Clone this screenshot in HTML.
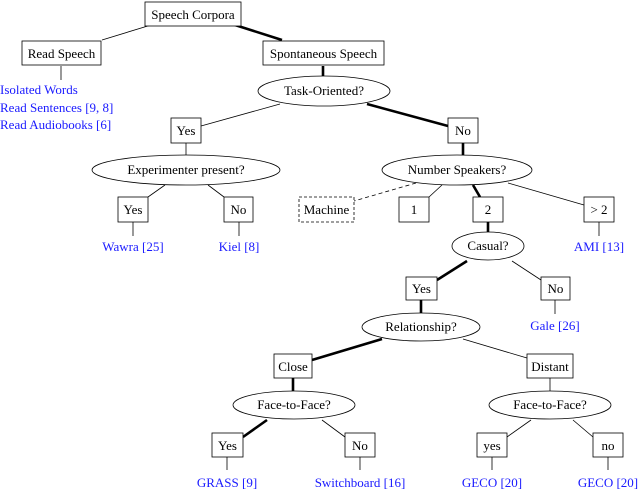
<!DOCTYPE html>
<html><head><meta charset="utf-8"><style>
html,body{margin:0;padding:0;background:#fff;}
svg{display:block;}
text{font-family:"Liberation Serif",serif;font-size:13px;}
.b{fill:#1a1aff;}
</style></head><body>
<svg width="640" height="491" viewBox="0 0 640 491" xmlns="http://www.w3.org/2000/svg">
<g stroke="#000" fill="none" stroke-width="0.8">
<line x1="151" y1="25" x2="102" y2="40"/>
<line x1="61" y1="66" x2="61" y2="80"/>
<line x1="280" y1="104" x2="201" y2="126"/>
<line x1="186" y1="143" x2="186" y2="155"/>
<line x1="165" y1="185" x2="148" y2="197"/>
<line x1="208" y1="185" x2="224" y2="197"/>
<line x1="133" y1="222" x2="133" y2="236"/>
<line x1="239" y1="222" x2="239" y2="236"/>
<line x1="416" y1="183" x2="354" y2="201" stroke-dasharray="4,3"/>
<line x1="442" y1="185" x2="429" y2="197"/>
<line x1="508" y1="183" x2="584" y2="205"/>
<line x1="599" y1="222" x2="599" y2="236"/>
<line x1="512" y1="261" x2="541" y2="280"/>
<line x1="555" y1="300" x2="555" y2="314"/>
<line x1="463" y1="339" x2="527" y2="358"/>
<line x1="550" y1="378" x2="550" y2="391"/>
<line x1="322" y1="420" x2="345" y2="437"/>
<line x1="531" y1="420" x2="507" y2="437"/>
<line x1="573" y1="420" x2="593" y2="437"/>
<line x1="227" y1="457" x2="227" y2="470"/>
<line x1="360" y1="457" x2="360" y2="470"/>
<line x1="492" y1="457" x2="492" y2="470"/>
<line x1="608" y1="457" x2="608" y2="470"/>
</g>
<g stroke="#000" fill="none" stroke-width="2.6">
<line x1="235" y1="25" x2="282" y2="40"/>
<line x1="323" y1="66" x2="323" y2="76"/>
<line x1="367" y1="104" x2="448" y2="126"/>
<line x1="463" y1="143" x2="463" y2="155"/>
<line x1="473" y1="185" x2="480" y2="197"/>
<line x1="488" y1="222" x2="488" y2="232"/>
<line x1="467" y1="261" x2="437" y2="280"/>
<line x1="421" y1="300" x2="421" y2="313"/>
<line x1="382" y1="339" x2="312" y2="360"/>
<line x1="293" y1="378" x2="293" y2="391"/>
<line x1="267" y1="420" x2="243" y2="437"/>
</g>
<g stroke="#000" fill="#fff" stroke-width="0.8">
<rect x="145" y="2" width="96" height="24"/>
<rect x="22" y="41" width="79" height="24"/>
<rect x="263" y="41" width="121" height="24"/>
<ellipse cx="324" cy="91" rx="66" ry="15"/>
<rect x="171" y="118" width="30" height="25"/>
<rect x="448" y="118" width="30" height="25"/>
<ellipse cx="186" cy="170" rx="94" ry="15"/>
<ellipse cx="457" cy="170" rx="75" ry="15"/>
<rect x="118" y="197" width="30" height="25"/>
<rect x="224" y="197" width="29" height="25"/>
<rect x="299" y="197" width="55" height="25" stroke-dasharray="3,2"/>
<rect x="399" y="197" width="30" height="25"/>
<rect x="473" y="197" width="30" height="25"/>
<rect x="584" y="197" width="30" height="25"/>
<ellipse cx="488" cy="246" rx="36" ry="14"/>
<rect x="406" y="277" width="31" height="23"/>
<rect x="541" y="277" width="29" height="23"/>
<ellipse cx="421" cy="327" rx="59" ry="14"/>
<rect x="274" y="354" width="38" height="24"/>
<rect x="527" y="354" width="46" height="24"/>
<ellipse cx="294" cy="405" rx="61" ry="14"/>
<ellipse cx="550" cy="405" rx="61" ry="14"/>
<rect x="212" y="433" width="31" height="24"/>
<rect x="345" y="433" width="30" height="24"/>
<rect x="477" y="433" width="30" height="24"/>
<rect x="593" y="433" width="30" height="24"/>
</g>
<g text-anchor="middle">
<text x="193" y="19">Speech Corpora</text>
<text x="61.5" y="58">Read Speech</text>
<text x="323.5" y="58">Spontaneous Speech</text>
<text x="324" y="95">Task-Oriented?</text>
<text x="186" y="135">Yes</text>
<text x="463" y="135">No</text>
<text x="186" y="174">Experimenter present?</text>
<text x="457" y="174">Number Speakers?</text>
<text x="133" y="214">Yes</text>
<text x="238.5" y="214">No</text>
<text x="326.5" y="214">Machine</text>
<text x="414" y="214">1</text>
<text x="488" y="214">2</text>
<text x="599" y="214">&gt; 2</text>
<text x="488" y="250">Casual?</text>
<text x="421.5" y="293">Yes</text>
<text x="555.5" y="293">No</text>
<text x="421" y="331">Relationship?</text>
<text x="293" y="371">Close</text>
<text x="550" y="371">Distant</text>
<text x="294" y="409">Face-to-Face?</text>
<text x="550" y="409">Face-to-Face?</text>
<text x="227.5" y="450">Yes</text>
<text x="360" y="450">No</text>
<text x="492" y="450">yes</text>
<text x="608" y="450">no</text>
<g class="b">
<text x="133" y="251">Wawra [25]</text>
<text x="239" y="251">Kiel [8]</text>
<text x="599" y="251">AMI [13]</text>
<text x="555" y="330">Gale [26]</text>
<text x="227" y="487">GRASS [9]</text>
<text x="360" y="487">Switchboard [16]</text>
<text x="492" y="487">GECO [20]</text>
<text x="608" y="487">GECO [20]</text>
</g>
</g>
<g class="b">
<text x="0" y="94">Isolated Words</text>
<text x="0" y="112">Read Sentences [9, 8]</text>
<text x="0" y="129">Read Audiobooks [6]</text>
</g>
</svg>
</body></html>
